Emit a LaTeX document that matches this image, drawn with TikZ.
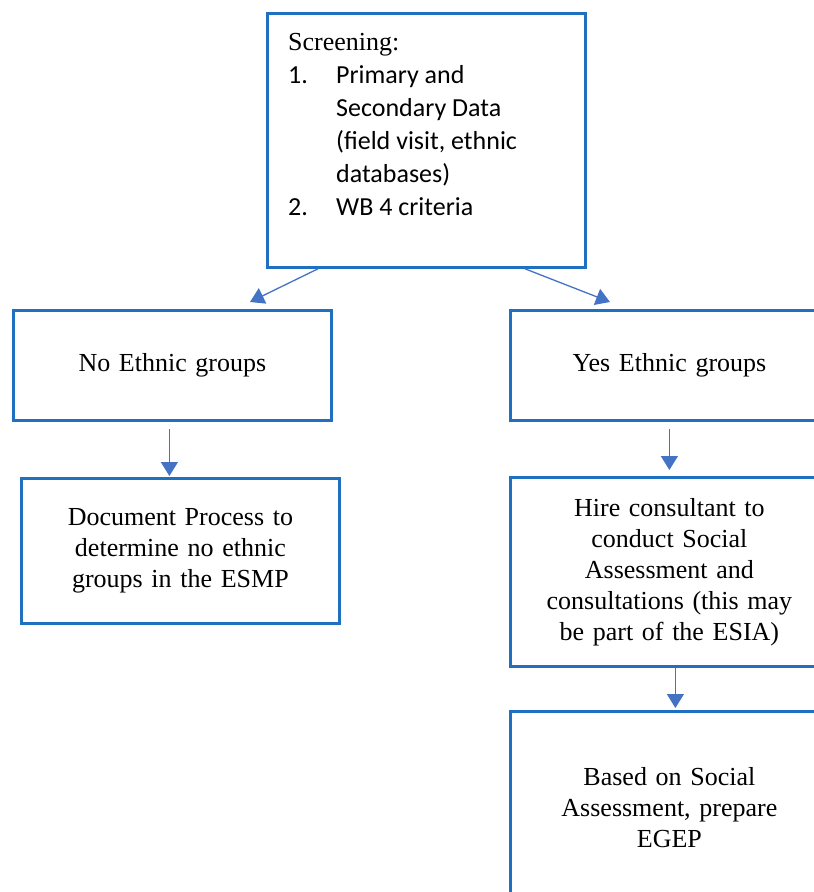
\documentclass[tikz,border=0pt]{standalone}
\usepackage{fontspec}
\setmainfont{Liberation Serif}
\newfontfamily\listfont{Carlito}
\usetikzlibrary{arrows.meta}
\definecolor{BoxBlue}{HTML}{1F70C1}
\definecolor{ArrowBlue}{HTML}{4472C4}
\tikzset{
  stepbox/.style={draw=BoxBlue, line width=2.8pt, rectangle, anchor=north west,
    minimum width=318pt, align=center, text width=280pt, inner sep=0pt},
  flow/.style={draw=ArrowBlue, line width=1.3pt,
    -{Triangle[width=17pt, length=14pt]}, ArrowBlue},
}

\begin{document}
\begin{tikzpicture}[x=1pt, y=-1pt, font=\fontsize{26}{31}\selectfont]
            \useasboundingbox (0, 0) rectangle (814, 892);
            \clip (0, 0) rectangle (814, 892);
            % screening box and its list
            \node[stepbox, minimum height=254pt] (screen) at (266, 12) {};
            \node[anchor=north west, align=left, inner sep=0pt, font=\fontsize{26}{33}\selectfont] (screentxt) at (288, 33)
                {Screening:\\
                 {\listfont\makebox[48pt][l]{1.}Primary and}\\
                 {\listfont\hspace*{48pt}Secondary Data}\\
                 {\listfont\hspace*{48pt}(field visit, ethnic}\\
                 {\listfont\hspace*{48pt}databases)}\\
                 {\listfont\makebox[48pt][l]{2.}WB 4 criteria}};
            % the two branches
            \node[stepbox, minimum height=110pt] (noeth) at (12, 309) {No Ethnic groups};
            \node[stepbox, minimum height=110pt] (yeseth) at (509, 309) {Yes Ethnic groups};
            \node[stepbox, minimum height=145pt] (docproc) at (20, 477)
                {Document Process to\\ determine no ethnic\\ groups in the ESMP};
            \node[stepbox, minimum height=189pt] (hire) at (509, 476)
                {Hire consultant to\\ conduct Social\\ Assessment and\\ consultations (this may\\ be part of the ESIA)};
            \node[stepbox, minimum height=192pt] (egep) at (509, 710)
                {Based on Social\\ Assessment, prepare\\ EGEP};
            % connectors
            \draw[flow] ([xshift=52pt]screen.south west) -- ([xshift=238pt, yshift=7pt]noeth.north west);
            \draw[flow] ([xshift=259pt]screen.south west) -- ([xshift=101pt, yshift=7pt]yeseth.north west);
            \draw[flow] ([xshift=-3pt, yshift=-7pt]noeth.south) -- ([xshift=-11pt, yshift=1pt]docproc.north);
            \draw[flow] ([yshift=-7pt]yeseth.south) -- ([yshift=6pt]hire.north);
            \draw[flow] ([xshift=6pt]hire.south) -- ([xshift=6pt, yshift=2pt]egep.north);
        \end{tikzpicture}
\end{document}
